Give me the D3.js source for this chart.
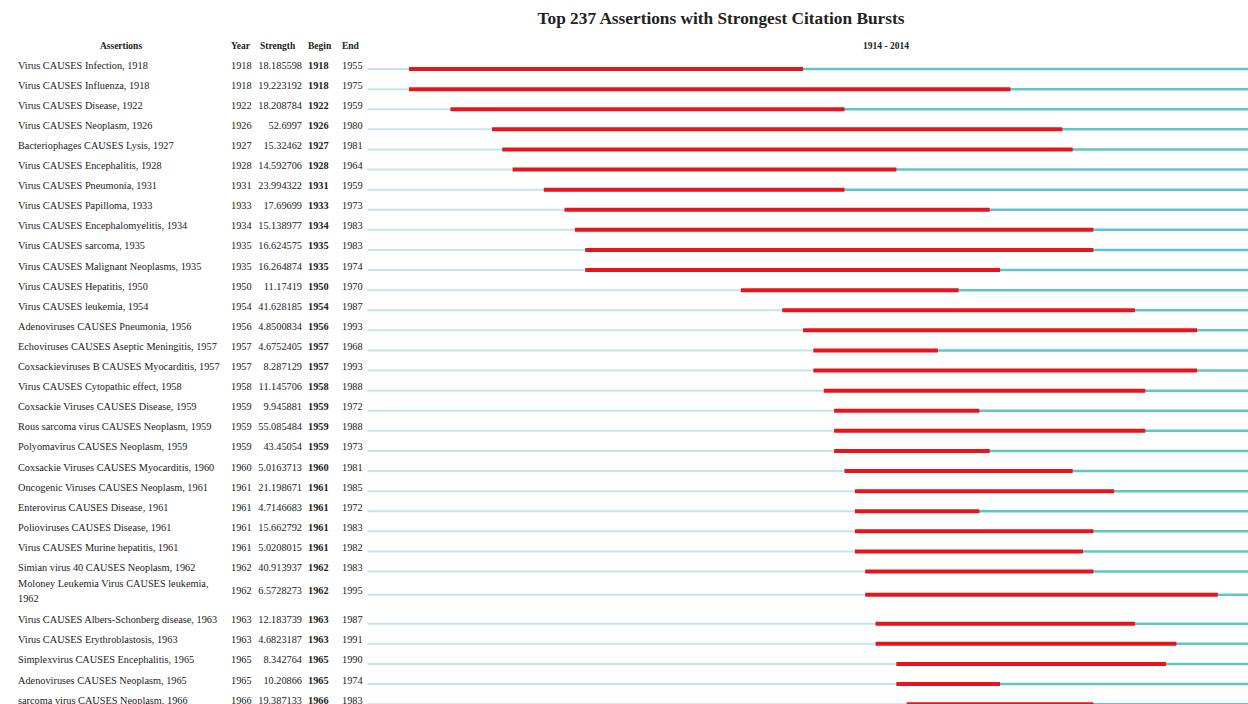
<!DOCTYPE html>
<html>
<head>
<meta charset="utf-8">
<script src="https://cdn.jsdelivr.net/npm/d3@7"></script>
<style>
  body { margin: 0; background: #fff; }
  svg text { font-family: "Liberation Serif", "Times New Roman", serif; fill: #222; }
</style>
</head>
<body>
<svg id="chart"></svg>
<script>
var chartTitle = 'Top 237 Assertions with Strongest Citation Bursts'
var firstYear = 1914
var lastYear = 2014

// '\n' marks where the name column wraps
var assertions = [
    'Virus CAUSES Infection, 1918',
    'Virus CAUSES Influenza, 1918',
    'Virus CAUSES Disease, 1922',
    'Virus CAUSES Neoplasm, 1926',
    'Bacteriophages CAUSES Lysis, 1927',
    'Virus CAUSES Encephalitis, 1928',
    'Virus CAUSES Pneumonia, 1931',
    'Virus CAUSES Papilloma, 1933',
    'Virus CAUSES Encephalomyelitis, 1934',
    'Virus CAUSES sarcoma, 1935',
    'Virus CAUSES Malignant Neoplasms, 1935',
    'Virus CAUSES Hepatitis, 1950',
    'Virus CAUSES leukemia, 1954',
    'Adenoviruses CAUSES Pneumonia, 1956',
    'Echoviruses CAUSES Aseptic Meningitis, 1957',
    'Coxsackieviruses B CAUSES Myocarditis, 1957',
    'Virus CAUSES Cytopathic effect, 1958',
    'Coxsackie Viruses CAUSES Disease, 1959',
    'Rous sarcoma virus CAUSES Neoplasm, 1959',
    'Polyomavirus CAUSES Neoplasm, 1959',
    'Coxsackie Viruses CAUSES Myocarditis, 1960',
    'Oncogenic Viruses CAUSES Neoplasm, 1961',
    'Enterovirus CAUSES Disease, 1961',
    'Polioviruses CAUSES Disease, 1961',
    'Virus CAUSES Murine hepatitis, 1961',
    'Simian virus 40 CAUSES Neoplasm, 1962',
    'Moloney Leukemia Virus CAUSES leukemia,\n1962',
    'Virus CAUSES Albers-Schonberg disease, 1963',
    'Virus CAUSES Erythroblastosis, 1963',
    'Simplexvirus CAUSES Encephalitis, 1965',
    'Adenoviruses CAUSES Neoplasm, 1965',
    'sarcoma virus CAUSES Neoplasm, 1966'
]
var years = [1918, 1918, 1922, 1926, 1927, 1928, 1931, 1933, 1934, 1935, 1935, 1950, 1954, 1956, 1957, 1957,
    1958, 1959, 1959, 1959, 1960, 1961, 1961, 1961, 1961, 1962, 1962, 1963, 1963, 1965, 1965, 1966]
var strengths = ['18.185598', '19.223192', '18.208784', '52.6997', '15.32462', '14.592706', '23.994322', '17.69699',
    '15.138977', '16.624575', '16.264874', '11.17419', '41.628185', '4.8500834', '4.6752405', '8.287129',
    '11.145706', '9.945881', '55.085484', '43.45054', '5.0163713', '21.198671', '4.7146683', '15.662792',
    '5.0208015', '40.913937', '6.5728273', '12.183739', '4.6823187', '8.342764', '10.20866', '19.387133']
var begins = [1918, 1918, 1922, 1926, 1927, 1928, 1931, 1933, 1934, 1935, 1935, 1950, 1954, 1956, 1957, 1957,
    1958, 1959, 1959, 1959, 1960, 1961, 1961, 1961, 1961, 1962, 1962, 1963, 1963, 1965, 1965, 1966]
var ends = [1955, 1975, 1959, 1980, 1981, 1964, 1959, 1973, 1983, 1983, 1974, 1970, 1987, 1993, 1968, 1993,
    1988, 1972, 1988, 1973, 1981, 1985, 1972, 1983, 1982, 1983, 1995, 1987, 1991, 1990, 1974, 1983]

var width = 1248, height = 704
var rowHeight = 20.1, lineHeight = 12
var fontSize = 10.3

var svg = d3.select('#chart').attr('width', width).attr('height', height)
svg.append('rect').attr('width', width).attr('height', height).attr('fill', '#fff')

// one year = one slot, burst covers begin .. end inclusive
var xScale = d3.scaleLinear().domain([firstYear, lastYear + 1]).range([367.5, 367.5 + 101 * 10.37])

svg.append('text')
    .attr('x', 721).attr('y', 24)
    .attr('text-anchor', 'middle')
    .style('font-size', '17.3px').style('font-weight', 'bold')
    .text(chartTitle)

var header = svg.append('g').attr('transform', 'translate(0, 49)')
    .style('font-size', '9.5px').style('font-weight', 'bold')
header.append('text').attr('x', 121).attr('text-anchor', 'middle').text('Assertions')
header.append('text').attr('x', 231).text('Year')
header.append('text').attr('x', 260).text('Strength')
header.append('text').attr('x', 308).text('Begin')
header.append('text').attr('x', 342).text('End')
header.append('text').attr('x', (xScale(firstYear) + xScale(lastYear)) / 2)
    .attr('text-anchor', 'middle').text(firstYear + ' - ' + lastYear)

var rows = svg.append('g').style('font-size', fontSize + 'px')

var y = 55
assertions.forEach(function (name, i) {
    var g = rows.append('g')
    var lines = name.split('\n')
    var h = rowHeight + (lines.length - 1) * lineHeight
    var cy = y + h / 2 - (lines.length - 1) * 3

    g.append('text').selectAll('tspan')
        .data(lines)
        .enter()
        .append('tspan')
        .attr('x', 18)
        .attr('y', function (d, k) { return cy + 3.5 + (k - (lines.length - 1) / 2) * 15 })
        .text(function (d) { return d })

    g.append('text').attr('x', 231).attr('y', cy + 3.5).text(years[i])
    g.append('text').attr('x', 302).attr('y', cy + 3.5).attr('text-anchor', 'end').text(strengths[i])
    g.append('text').attr('x', 308).attr('y', cy + 3.5).style('font-weight', 'bold').text(begins[i])
    g.append('text').attr('x', 342).attr('y', cy + 3.5).text(ends[i])

    var ly = cy + 4
    g.append('line')
        .attr('x1', xScale(firstYear)).attr('x2', xScale(years[i]))
        .attr('y1', ly).attr('y2', ly)
        .attr('stroke', '#c3e4ea').attr('stroke-width', 2)
    g.append('line')
        .attr('x1', xScale(years[i])).attr('x2', xScale(lastYear + 1))
        .attr('y1', ly).attr('y2', ly)
        .attr('stroke', '#5ec6c8').attr('stroke-width', 2.5)
    g.append('line')
        .attr('x1', xScale(begins[i])).attr('x2', xScale(ends[i] + 1))
        .attr('y1', ly).attr('y2', ly)
        .attr('stroke', '#e8141c').attr('stroke-width', 4)

    y += h
})
</script>
</body>
</html>
